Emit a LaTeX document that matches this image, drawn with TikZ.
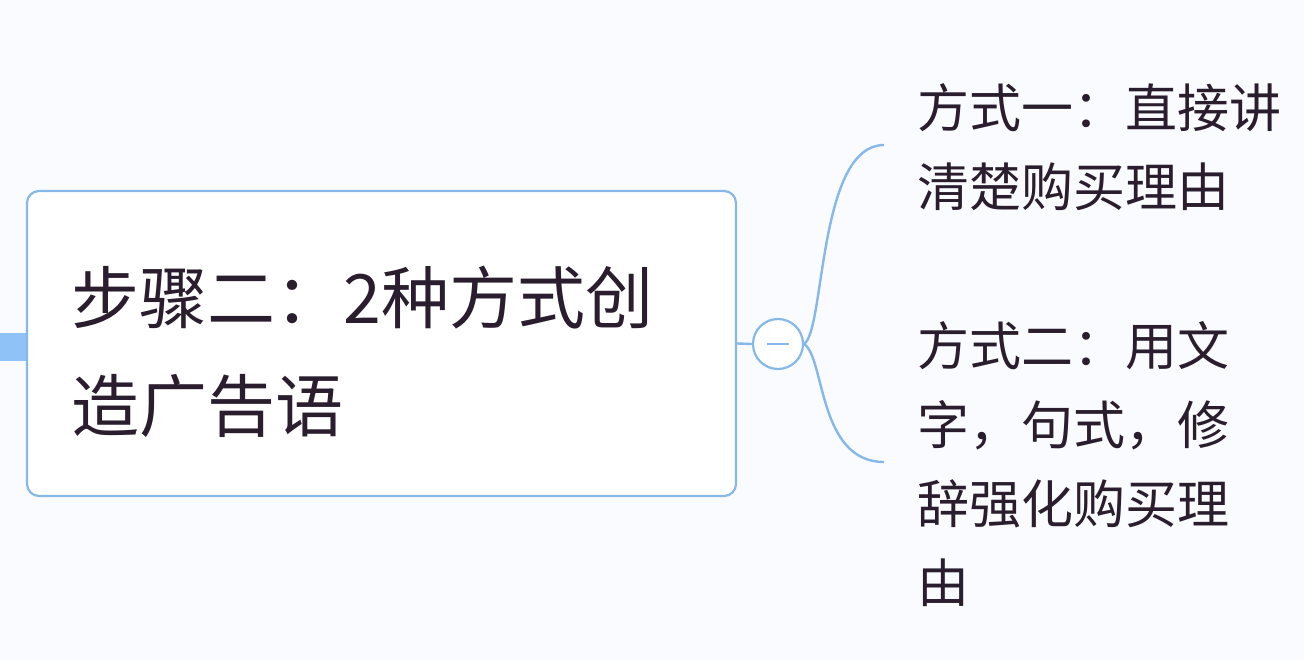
\documentclass[tikz,border=0pt]{standalone}
\usepackage{fontspec}
\newfontfamily\cjk{Noto Sans CJK SC}
\usepackage{tikz}
\definecolor{mapblue}{RGB}{134,184,234}
\definecolor{stubblue}{RGB}{143,195,247}
\definecolor{ink}{RGB}{42,30,46}
\definecolor{paper}{RGB}{250,251,254}
\tikzset{
  topicbox/.style={draw=mapblue, line width=2.2pt, rounded corners=12pt, fill=white,
    minimum width=709pt, minimum height=305pt, text width=620pt, inner xsep=44.5pt,
    align=left, text=ink, font=\cjk\fontsize{68}{108}\selectfont},
  subtopic/.style={inner sep=0pt, anchor=west, align=left, text=ink,
    font=\cjk\fontsize{52}{79}\selectfont},
  toggle/.style={draw=mapblue, line width=2.2pt, circle, fill=white, minimum size=50pt, inner sep=0pt},
  branch/.style={draw=mapblue, line width=2.4pt},
}

\begin{document}
\begin{tikzpicture}[x=1pt,y=-1pt]
            \fill[paper] (0,0) rectangle (1304,660);
            \useasboundingbox (0,0) rectangle (1304,660);

            \fill[stubblue] (0,333) rectangle (28,361);
            \node[topicbox] (main) at (381.5,343.5) {\rule{0pt}{75pt}步骤二：2种方式创\\造广告语};

            \node[toggle] (fold) at (778,344) {};
            \draw[branch] (main.east) -- (fold.west);
            \draw[branch] ([xshift=-11pt]fold.center) -- ([xshift=11pt]fold.center);

            \node[subtopic] (way1) at (917,147) {方式一：直接讲\\清楚购买理由};
            \node[subtopic] (way2) at (917,464) {方式二：用文\\字，句式，修\\辞强化购买理\\由};
            \coordinate (end1) at (884,145);
            \coordinate (end2) at (884,462);

            \draw[branch] (fold.east) .. controls +(21,-14) and +(-66,0) .. (end1);
            \draw[branch] (fold.east) .. controls +(21,14) and +(-66,0) .. (end2);
\end{tikzpicture}
\end{document}
